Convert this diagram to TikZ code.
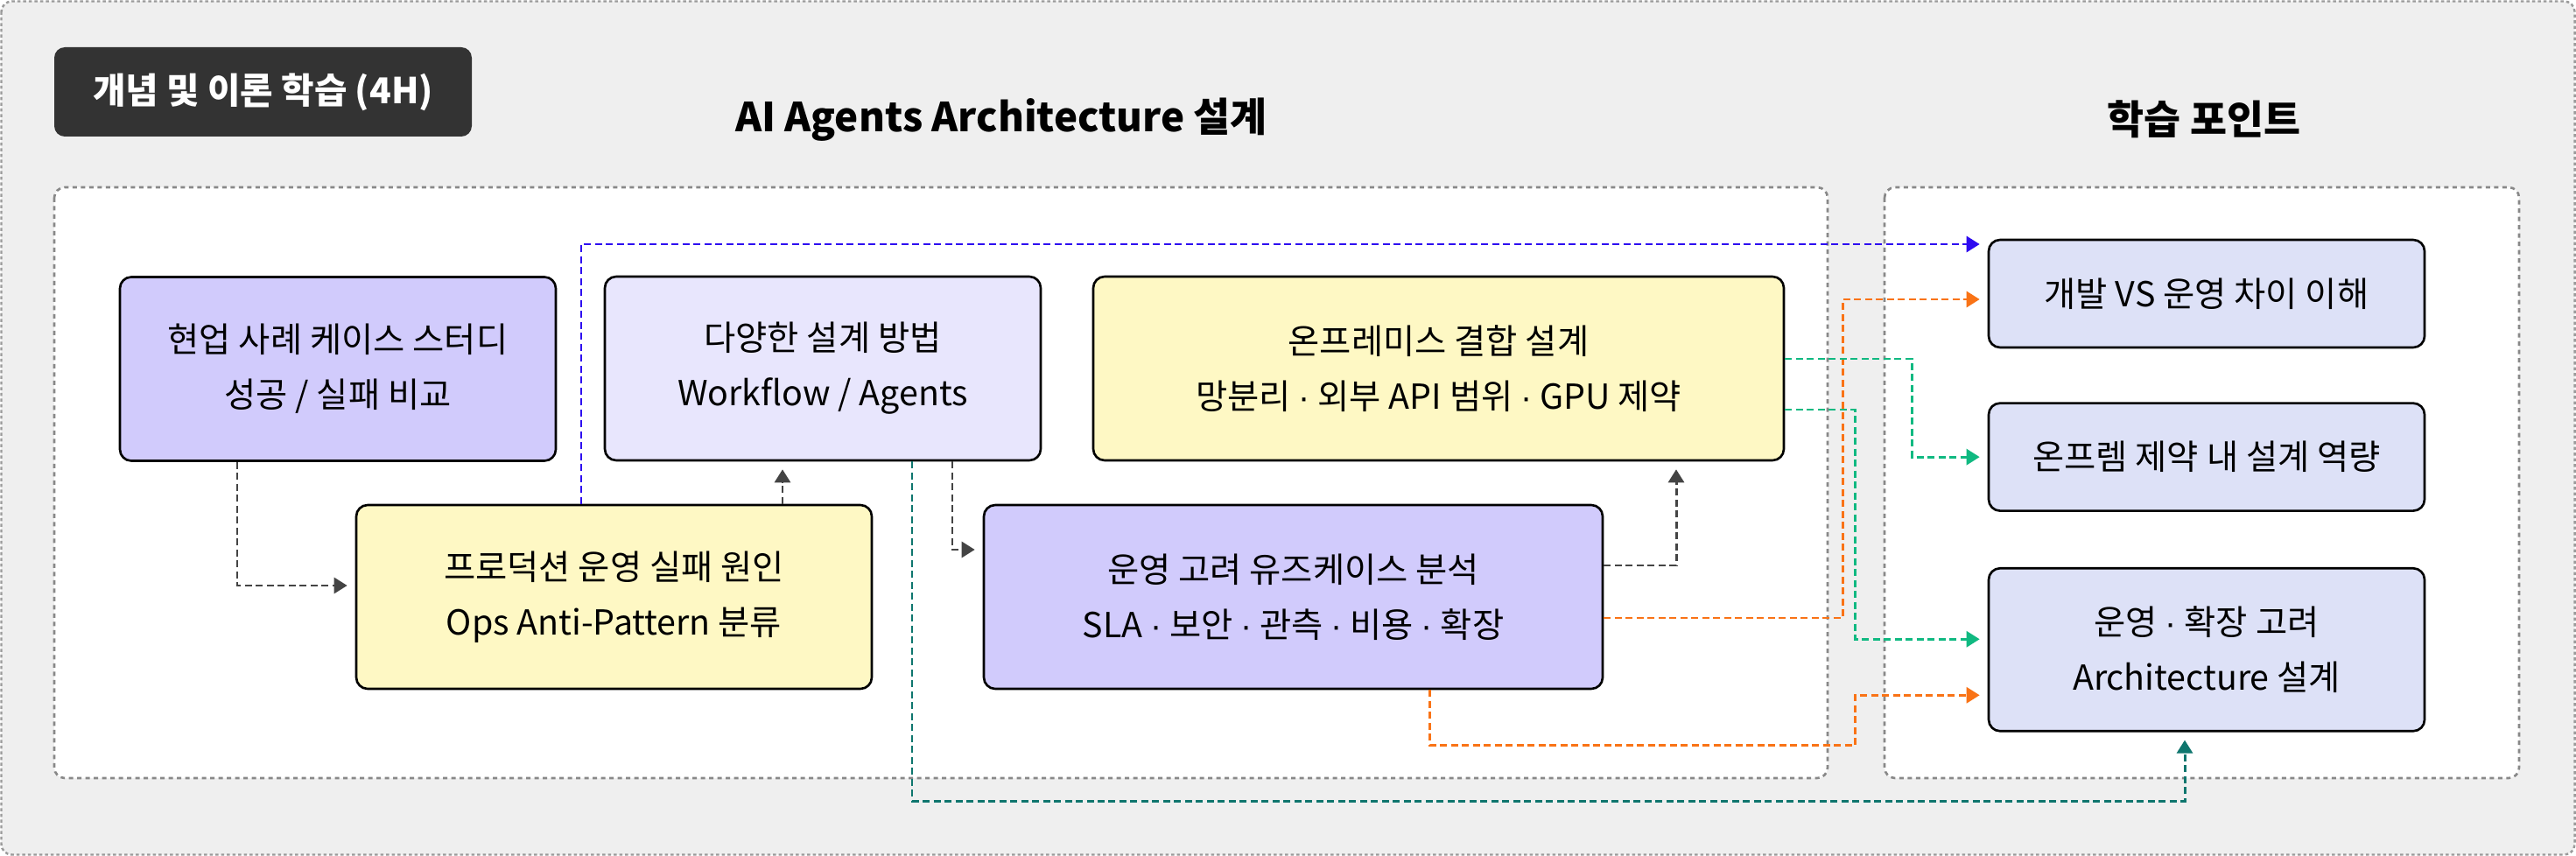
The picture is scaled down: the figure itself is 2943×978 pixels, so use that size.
\documentclass[tikz,border=0pt]{standalone}
\usepackage{fontspec}
\setmainfont{Noto Sans CJK KR}
\newfontfamily\dotfont{Liberation Sans}
\usepackage{xcolor}
\usetikzlibrary{positioning,arrows.meta}

\definecolor{framebg}{HTML}{EFEFEF}
\definecolor{frameline}{HTML}{9A9A9A}
\definecolor{panelline}{HTML}{888888}
\definecolor{violetbox}{HTML}{D1CBFC}
\definecolor{lilacbox}{HTML}{E8E6FD}
\definecolor{yellowbox}{HTML}{FEF8C4}
\definecolor{pointbox}{HTML}{DDE1F7}
\definecolor{headbg}{HTML}{333333}
\definecolor{flowgray}{HTML}{444444}
\definecolor{flowblue}{HTML}{2E0BF0}
\definecolor{floworange}{HTML}{F97316}
\definecolor{flowgreen}{HTML}{10B981}
\definecolor{flowteal}{HTML}{0F766E}

\newcommand{\diagfont}{\fontsize{11.2}{17.9}\selectfont}
\newcommand{\mdot}{{\dotfont ·}}

\begin{document}
\begin{tikzpicture}[
    x=0.1mm, y=-0.1mm,
    box/.style={rectangle, draw=black, line width=0.75pt, rounded corners=1.3mm, minimum width=4.98cm, minimum height=2.1cm, align=center, font=\diagfont, inner sep=0pt},
    panel/.style={draw=panelline, fill=white, line width=0.75pt, dash pattern=on 0.5mm off 0.45mm, rounded corners=1.2mm},
    heading/.style={font=\fontsize{13}{16}\selectfont\bfseries},
    flow/.style={-{Triangle[length=1.5mm, width=1.8mm]}, line width=0.85pt, dash pattern=on 0.8mm off 0.45mm, shorten >=0.9mm}
]
\useasboundingbox (0,0) rectangle (2943,978);

% frame and panels
\draw[draw=frameline, fill=framebg, line width=0.7pt, dash pattern=on 0.35mm off 0.3mm, rounded corners=1.2mm] (1.5,1.5) rectangle (2941.5,976.5);
\draw[panel] (62,214) rectangle (2088,889);
\draw[panel] (2153,214) rectangle (2878,889);

\node[fill=headbg, rounded corners=1.2mm, minimum width=4.77cm, minimum height=1.02cm, text=white, font=\fontsize{11.6}{13}\selectfont\bfseries] (phase) at (300.5,105) {개념 및 이론 학습 (4H)};
\node[heading] (archtitle) at (1144,137) {AI Agents Architecture 설계};
\node[heading] (pointtitle) at (2518,136) {학습 포인트};

% design boxes
\node[box, fill=violetbox] (casestudy) at (386,421.5) {현업 사례 케이스 스터디\\성공 / 실패 비교};
\node[box, fill=lilacbox] (designway) at (940,421) {다양한 설계 방법\\Workflow / Agents};
\node[box, fill=yellowbox, minimum width=7.89cm] (onprem) at (1643.5,421) {온프레미스 결합 설계\\망분리 \mdot{} 외부 API 범위 \mdot{} GPU 제약};
\node[box, fill=yellowbox, minimum width=5.89cm] (failcause) at (701.5,682) {프로덕션 운영 실패 원인\\Ops Anti-Pattern 분류};
\node[box, fill=violetbox, minimum width=7.07cm] (usecase) at (1477.5,682) {운영 고려 유즈케이스 분석\\SLA \mdot{} 보안 \mdot{} 관측 \mdot{} 비용 \mdot{} 확장};

% learning points
\node[box, fill=pointbox, minimum height=1.23cm] (devops) at (2521,335.5) {개발 VS 운영 차이 이해};
\node[box, fill=pointbox, minimum height=1.23cm, below=6.1mm of devops] (onpremcap) {온프렘 제약 내 설계 역량};
\node[box, fill=pointbox, minimum height=1.86cm, below=6.3mm of onpremcap] (archdesign) {운영 \mdot{} 확장 고려\\Architecture 설계};

% connectors
\draw[flow, flowgray] ([xshift=-11.5mm]casestudy.south) |- ([yshift=1.3mm]failcause.west);
\draw[flow, flowgray] ([xshift=19.25mm]failcause.north) coordinate (up1) -- (up1 |- designway.south);
\draw[flow, flowblue] ([xshift=-3.75mm]failcause.north) |- ([yshift=5.65mm]devops.west);
\draw[flow, flowgray] ([xshift=14.8mm]designway.south) |- ([yshift=5.4mm]usecase.west);
\draw[flow, flowteal] ([xshift=10.2mm]designway.south) -- ++(0,-38.8mm) -| ([xshift=-2.5mm]archdesign.south);
\draw[flow, flowgray] ([yshift=3.6mm]usecase.east) -| ([xshift=27.15mm]onprem.south);
\draw[flow, floworange] ([yshift=-2.4mm]usecase.east) -- ++(27.3mm,0) |- ([yshift=-0.65mm]devops.west);
\draw[flow, floworange] ([xshift=15.55mm]usecase.south) -- ++(0,-6.3mm) -| ([xshift=-15.1mm, yshift=-5.2mm]archdesign.west) -- ([yshift=-5.2mm]archdesign.west);
\draw[flow, flowgreen] ([yshift=1.1mm]onprem.east) -| ([xshift=-8.6mm]onpremcap.west) -- (onpremcap.west);
\draw[flow, flowgreen] ([yshift=-4.7mm]onprem.east) -| ([xshift=-15.1mm, yshift=1.2mm]archdesign.west) -- ([yshift=1.2mm]archdesign.west);
\end{tikzpicture}
\end{document}
